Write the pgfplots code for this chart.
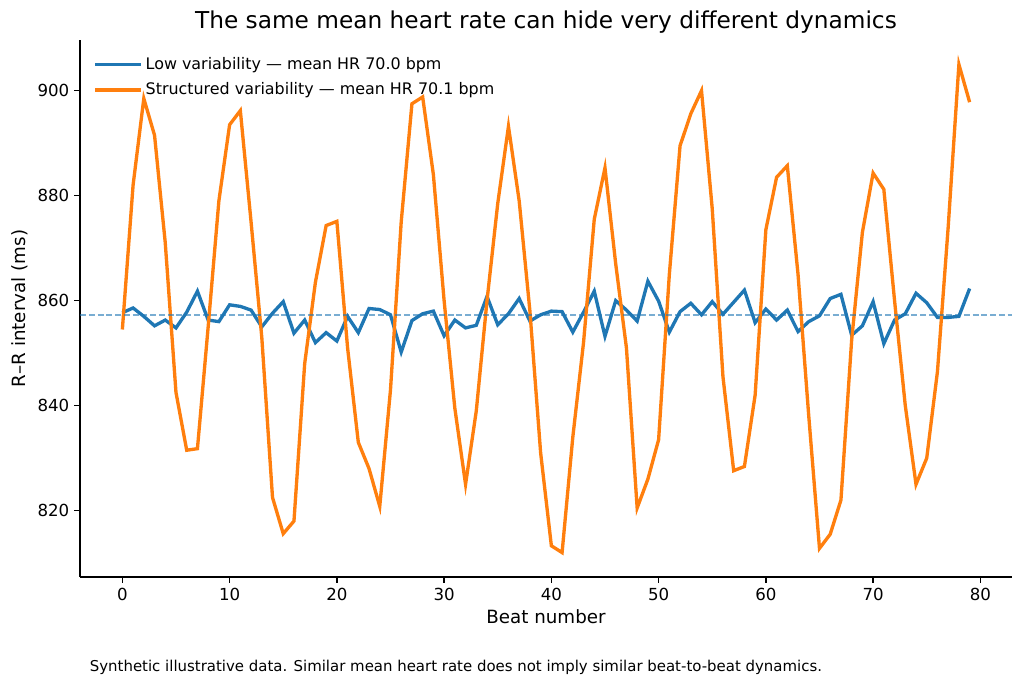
\documentclass[border=0pt]{standalone}
\usepackage{fontspec}
\setmainfont{DejaVu Sans}
\usepackage{pgfplots}
\usepackage{pgfplotstable}
\pgfplotsset{compat=1.18}
\definecolor{tabblue}{HTML}{1F77B4}
\definecolor{taborange}{HTML}{FF7F0E}

% beat, low-variability RR, structured-variability RR (ms)
\pgfplotstableread{
beat low structured
0 857.7 854.5
1 858.6 882.0
2 857.0 898.5
3 855.2 891.5
4 856.3 871.0
5 854.8 842.5
6 857.8 831.5
7 861.8 831.8
8 856.3 855.0
9 856.0 879.0
10 859.2 893.5
11 858.9 896.2
12 858.2 875.0
13 855.0 853.0
14 857.6 822.5
15 859.8 815.6
16 853.8 818.0
17 856.3 848.0
18 852.0 863.5
19 853.9 874.3
20 852.3 875.1
21 857.0 851.0
22 853.9 833.0
23 858.5 828.0
24 858.3 820.8
25 857.3 843.0
26 850.2 875.0
27 856.2 897.5
28 857.5 898.8
29 858.0 884.0
30 853.3 860.0
31 856.3 839.5
32 854.8 825.0
33 855.3 839.0
34 860.8 860.0
35 855.4 878.5
36 857.5 893.2
37 860.4 879.0
38 856.1 858.0
39 857.3 831.0
40 858.0 813.3
41 857.9 812.0
42 854.0 834.0
43 857.8 852.0
44 861.8 875.5
45 853.2 885.3
46 860.0 867.0
47 858.2 851.0
48 856.1 820.5
49 863.7 826.0
50 859.9 833.5
51 854.0 865.0
52 857.9 889.5
53 859.5 895.6
54 857.3 900.0
55 859.8 877.5
56 857.4 845.5
57 859.7 827.6
58 862.0 828.4
59 855.8 842.0
60 858.4 873.5
61 856.3 883.5
62 858.2 885.7
63 854.1 865.0
64 856.0 838.0
65 857.1 812.8
66 860.4 815.5
67 861.2 822.0
68 853.4 852.5
69 855.2 873.0
70 859.8 884.3
71 851.8 881.2
72 856.3 860.0
73 857.5 840.0
74 861.4 825.0
75 859.6 830.0
76 856.8 846.5
77 856.8 874.0
78 857.0 905.0
79 862.3 897.8
}\rrdata

\begin{document}
\begin{tikzpicture}
  % page frame, same proportions as the reference figure
  \path (0,0) rectangle (10.24in,6.89in);
  \begin{axis}[
      at={(0.8in,1.12in)}, anchor=south west,
      scale only axis,
      width=9.32in, height=5.37in,
      xmin=-3.95, xmax=82.95,
      ymin=807.35, ymax=909.65,
      xtick={0,10,...,80},
      ytick={820,840,...,900},
      axis x line*=bottom, axis y line*=left,
      axis line style={line width=0.96bp, -},
      tick style={black, line width=0.96bp},
      tick align=outside,
      major tick length=4.2bp,
      tick label style={font=\fontsize{12}{14}\selectfont},
      /pgf/number format/assume math mode=true,
      xlabel={Beat number},
      ylabel={R–R interval (ms)},
      label style={font=\fontsize{13.2}{16}\selectfont},
      title={The same mean heart rate can hide very different dynamics},
      title style={font=\fontsize{16.8}{20}\selectfont, yshift=-4.5bp},
      legend style={draw=none, fill=none, at={(0.01,0.978)}, anchor=north west,
        font=\fontsize{11.5}{14}\selectfont, row sep=4bp},
      legend cell align=left,
      legend image code/.code={
        \path (0bp,0bp) -- (33bp,0bp);
        \draw[#1, line width=2.4bp] (0bp,0bp) -- (28.8bp,0bp);},
    ]
    \addplot[tabblue, line width=2.4bp, no markers] table[x=beat, y=low] {\rrdata};
    \addlegendentry{Low variability — mean HR 70.0 bpm}
    \addplot[taborange, line width=2.4bp, no markers] table[x=beat, y=structured] {\rrdata};
    \addlegendentry{Structured variability — mean HR 70.1 bpm}
    \addplot[tabblue, opacity=0.6, line width=1.2bp, dash pattern=on 4.4bp off 1.9bp, forget plot]
      coordinates {(-3.95,857.2) (82.95,857.2)};
  \end{axis}
  \node[anchor=base west, font=\fontsize{10.8}{13}\selectfont] at (0.85in,0.17in)
    {Synthetic illustrative data. Similar mean heart rate does not imply similar beat-to-beat dynamics.};
\end{tikzpicture}
\end{document}
